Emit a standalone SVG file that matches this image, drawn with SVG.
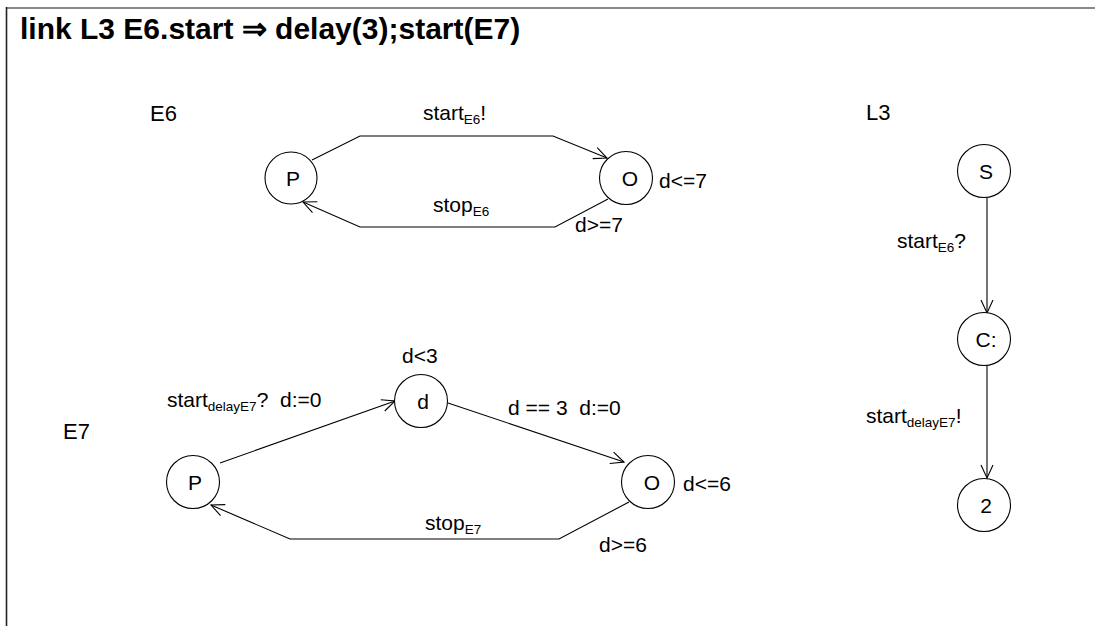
<svg xmlns="http://www.w3.org/2000/svg" width="1095" height="626" viewBox="0 0 1095 626">
  <style>
    text { font-family: "Liberation Sans", Arial, sans-serif; fill: #000; }
    .title { font-size: 30px; font-weight: bold; }
    .comp { font-size: 22px; }
    .lbl { font-size: 21px; }
    .nl { font-size: 21px; text-anchor: middle; }
    .sub { font-size: 13.5px; }
    .state { fill: #fff; stroke: #000; stroke-width: 1.1; }
    .edge { fill: none; stroke: #000; stroke-width: 1.1; marker-end: url(#arrow); }
  </style>
  <defs>
    <marker id="arrow" markerUnits="userSpaceOnUse" markerWidth="20" markerHeight="20" refX="0" refY="0" viewBox="-15 -10 20 20" orient="auto" overflow="visible">
      <path d="M-13,-6 L0,0 L-13,6" fill="none" stroke="#000" stroke-width="1.1"/>
    </marker>
  </defs>

  <rect width="1095" height="626" fill="#fff"/>

  <!-- frame -->
  <line x1="6" y1="8" x2="1095" y2="8" stroke="#888" stroke-width="2"/>
  <line x1="6.5" y1="7" x2="6.5" y2="626" stroke="#222" stroke-width="1.6"/>

  <text class="title" x="20" y="39">link L3 E6.start ⇒ delay(3);start(E7)</text>

  <!-- automaton names -->
  <text class="comp" x="150" y="121">E6</text>
  <text class="comp" x="866" y="120">L3</text>
  <text class="comp" x="63" y="439">E7</text>

  <!-- transitions -->
  <g id="connectors">
    <path class="edge" d="M312,160 L360,136 L553,136 L607,158"/>
    <path class="edge" d="M608,199 L555,227 L360,227 L303,202"/>
    <path class="edge" d="M987,198 L987,313"/>
    <path class="edge" d="M987,365 L987,478"/>
    <path class="edge" d="M220,463 L395,401"/>
    <path class="edge" d="M448,403 L624,462"/>
    <path class="edge" d="M629,502 L559,539 L290,539 L211,505"/>
  </g>

  <!-- transition labels -->
  <g id="labels">
    <text class="lbl" x="423" y="120">start<tspan class="sub" dy="4">E6</tspan><tspan dy="-4">!</tspan></text>
    <text class="lbl" x="433" y="212">stop<tspan class="sub" dy="4">E6</tspan></text>
    <text class="lbl" x="659" y="188">d&lt;=7</text>
    <text class="lbl" x="575" y="232">d&gt;=7</text>
    <text class="lbl" x="897" y="248">start<tspan class="sub" dy="4">E6</tspan><tspan dy="-4">?</tspan></text>
    <text class="lbl" x="866" y="423">start<tspan class="sub" dy="4">delayE7</tspan><tspan dy="-4">!</tspan></text>
    <text class="lbl" x="402" y="363">d&lt;3</text>
    <text class="lbl" x="167" y="407" xml:space="preserve">start<tspan class="sub" dy="4">delayE7</tspan><tspan dy="-4">?  d:=0</tspan></text>
    <text class="lbl" x="508" y="415" xml:space="preserve">d == 3  d:=0</text>
    <text class="lbl" x="683" y="491">d&lt;=6</text>
    <text class="lbl" x="425" y="530">stop<tspan class="sub" dy="4">E7</tspan></text>
    <text class="lbl" x="599" y="552">d&gt;=6</text>
  </g>

  <!-- E6 locations -->
  <g id="E6_P"><circle class="state" cx="291" cy="178" r="26"/><text class="nl" x="293" y="186">P</text></g>
  <g id="E6_O"><circle class="state" cx="626" cy="178" r="26.5"/><text class="nl" x="630" y="186">O</text></g>

  <!-- L3 locations -->
  <g id="L3_S"><circle class="state" cx="984" cy="171" r="26.5"/><text class="nl" x="986" y="179">S</text></g>
  <g id="L3_C"><circle class="state" cx="984" cy="339" r="26.5"/><text class="nl" x="986" y="347">C:</text></g>
  <g id="L3_2"><circle class="state" cx="984" cy="505" r="26.5"/><text class="nl" x="986" y="513">2</text></g>

  <!-- E7 locations -->
  <g id="E7_P"><circle class="state" cx="193" cy="482" r="26.5"/><text class="nl" x="195" y="490">P</text></g>
  <g id="E7_d"><circle class="state" cx="421" cy="401" r="26.5"/><text class="nl" x="423" y="409">d</text></g>
  <g id="E7_O"><circle class="state" cx="648" cy="482" r="26.5"/><text class="nl" x="652" y="490">O</text></g>
</svg>
